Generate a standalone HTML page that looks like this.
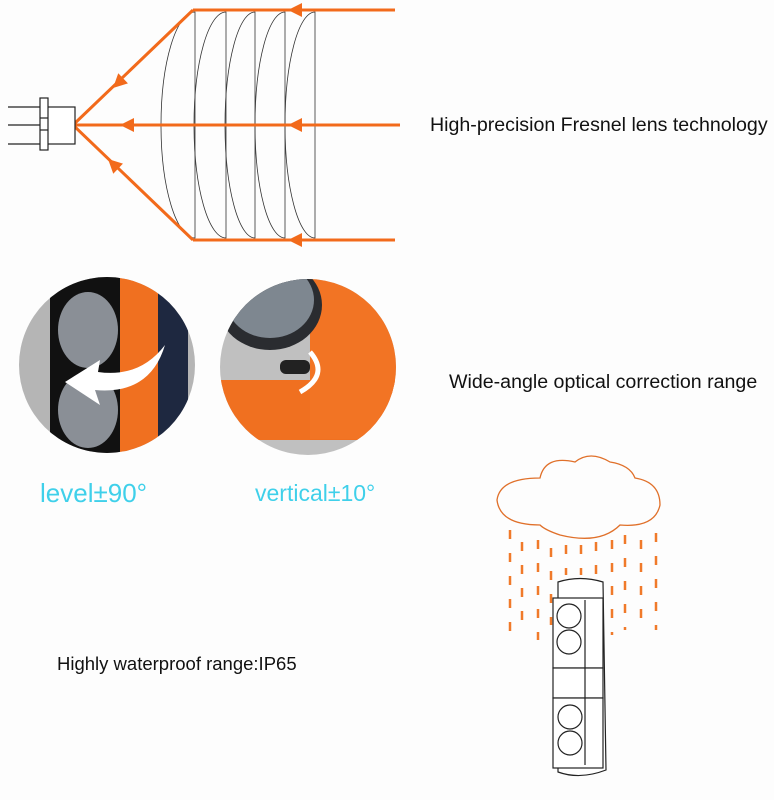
<!DOCTYPE html>
<html><head><style>
body{margin:0;background:#fff;width:774px;height:800px;overflow:hidden;font-family:"Liberation Sans",sans-serif}
</style></head><body>
<svg width="774" height="800" viewBox="0 0 774 800" xmlns="http://www.w3.org/2000/svg">
<rect width="774" height="800" fill="#fdfdfd"/>
<defs>
<clipPath id="c1"><circle cx="107" cy="365" r="88"/></clipPath>
<clipPath id="c2"><circle cx="308" cy="367" r="88"/></clipPath>
</defs>
<!-- lenses -->
<g fill="none" stroke="#333" stroke-width="0.8">
<path d="M195,12 A34,113 0 0 0 195,238 Z"/>
<path d="M226,12 A32,113 0 0 0 226,238 Z"/>
<path d="M255,12 A30,113 0 0 0 255,238 Z"/>
<path d="M285,12 A30,113 0 0 0 285,238 Z"/>
<path d="M315,12 A30,113 0 0 0 315,238 Z"/>
</g>
<!-- rays -->
<g stroke="#f26a1b" stroke-width="3" fill="none">
<line x1="395" y1="10" x2="193" y2="10"/>
<line x1="395" y1="240" x2="193" y2="240"/>
<line x1="400" y1="125" x2="73" y2="125"/>
<line x1="193" y1="10" x2="73" y2="125"/>
<line x1="193" y1="240" x2="73" y2="125"/>
</g>
<g fill="#f26a1b">
<path d="M288,10 l14,-7 v14z"/>
<path d="M288,240 l14,-7 v14z"/>
<path d="M288,125 l14,-7 v14z"/>
<path d="M120,125 l14,-7 v14z"/>
<path d="M0,0 l14,-7 v14z" transform="translate(113,88) rotate(-43.8)"/>
<path d="M0,0 l14,-7 v14z" transform="translate(108,159) rotate(43.8)"/>
</g>
<!-- sensor -->
<g stroke="#222" stroke-width="1.2" fill="#fff">
<line x1="8" y1="107" x2="42" y2="107"/>
<line x1="8" y1="125" x2="42" y2="125"/>
<line x1="8" y1="144" x2="42" y2="144"/>
<rect x="47" y="107" width="28" height="37"/>
<rect x="40" y="98" width="8" height="52"/>
<line x1="40" y1="118" x2="48" y2="118"/><line x1="40" y1="130" x2="48" y2="130"/>
</g>
<text x="430" y="131" font-size="19.6" fill="#111">High-precision Fresnel lens technology</text>
<!-- circle 1 -->
<g clip-path="url(#c1)">
<rect x="18" y="277" width="180" height="180" fill="#b5b5b5"/>
<rect x="50" y="277" width="70" height="180" fill="#111"/>
<ellipse cx="88" cy="330" rx="30" ry="38" fill="#8a8f96"/>
<ellipse cx="88" cy="410" rx="30" ry="38" fill="#8a8f96"/>
<rect x="120" y="277" width="38" height="180" fill="#f07020"/>
<rect x="158" y="277" width="30" height="180" fill="#1e2840"/>
<path d="M165,345 Q150,395 95,390 L100,405 L65,382 L100,360 L98,372 Q140,378 165,345z" fill="#fff"/>
</g>
<!-- circle 2 -->
<g clip-path="url(#c2)">
<rect x="220" y="279" width="180" height="180" fill="#c0c0c0"/>
<rect x="220" y="380" width="180" height="60" fill="#f07020"/>
<rect x="310" y="279" width="90" height="160" fill="#f27424"/>
<ellipse cx="270" cy="305" rx="52" ry="45" fill="#2a2c30"/>
<ellipse cx="270" cy="300" rx="44" ry="38" fill="#7e8790"/>
<rect x="280" y="360" width="30" height="14" rx="6" fill="#222"/>
<path d="M310,352 Q330,375 300,392" stroke="#fff" stroke-width="5" fill="none"/>
</g>
<text x="40" y="502" font-size="26" fill="#3fd0ea">level±90°</text>
<text x="255" y="501" font-size="23" fill="#3fd0ea">vertical±10°</text>
<text x="449" y="388" font-size="19.6" fill="#111">Wide-angle optical correction range</text>
<text x="57" y="670" font-size="18.5" fill="#111">Highly waterproof range:IP65</text>
<!-- cloud -->
<path d="M540,478 Q545,455 575,462 Q590,450 610,462 Q630,465 635,478 Q660,482 660,505 Q655,528 620,525 Q600,545 560,535 Q545,530 540,525 Q500,525 497,500 Q500,478 540,478z" fill="none" stroke="#e0702a" stroke-width="1.3"/>
<g stroke="#f07a2a" stroke-width="2.5" stroke-dasharray="9,14">
<line x1="510" y1="530" x2="510" y2="640"/><line x1="522" y1="542" x2="522" y2="620"/>
<line x1="538" y1="540" x2="538" y2="640"/><line x1="551" y1="548" x2="551" y2="625"/>
<line x1="566" y1="545" x2="566" y2="575"/><line x1="581" y1="545" x2="581" y2="575"/>
<line x1="596" y1="542" x2="596" y2="575"/><line x1="612" y1="540" x2="612" y2="635"/>
<line x1="625" y1="535" x2="625" y2="630"/><line x1="641" y1="540" x2="641" y2="630"/>
<line x1="656" y1="533" x2="656" y2="630"/>
</g>
<!-- device -->
<g stroke="#222" stroke-width="1.2" fill="#fff">
<path d="M558,582 Q580,575 603,582 L606,770 Q580,780 558,772 Z"/>
<rect x="553" y="598" width="50" height="70"/>
<circle cx="569" cy="616" r="12"/><circle cx="569" cy="642" r="12"/>
<rect x="553" y="668" width="50" height="30"/>
<rect x="553" y="698" width="50" height="70"/>
<circle cx="570" cy="717" r="12"/><circle cx="570" cy="743" r="12"/>
<line x1="585" y1="600" x2="585" y2="765"/>
</g>
</svg>
</body></html>
